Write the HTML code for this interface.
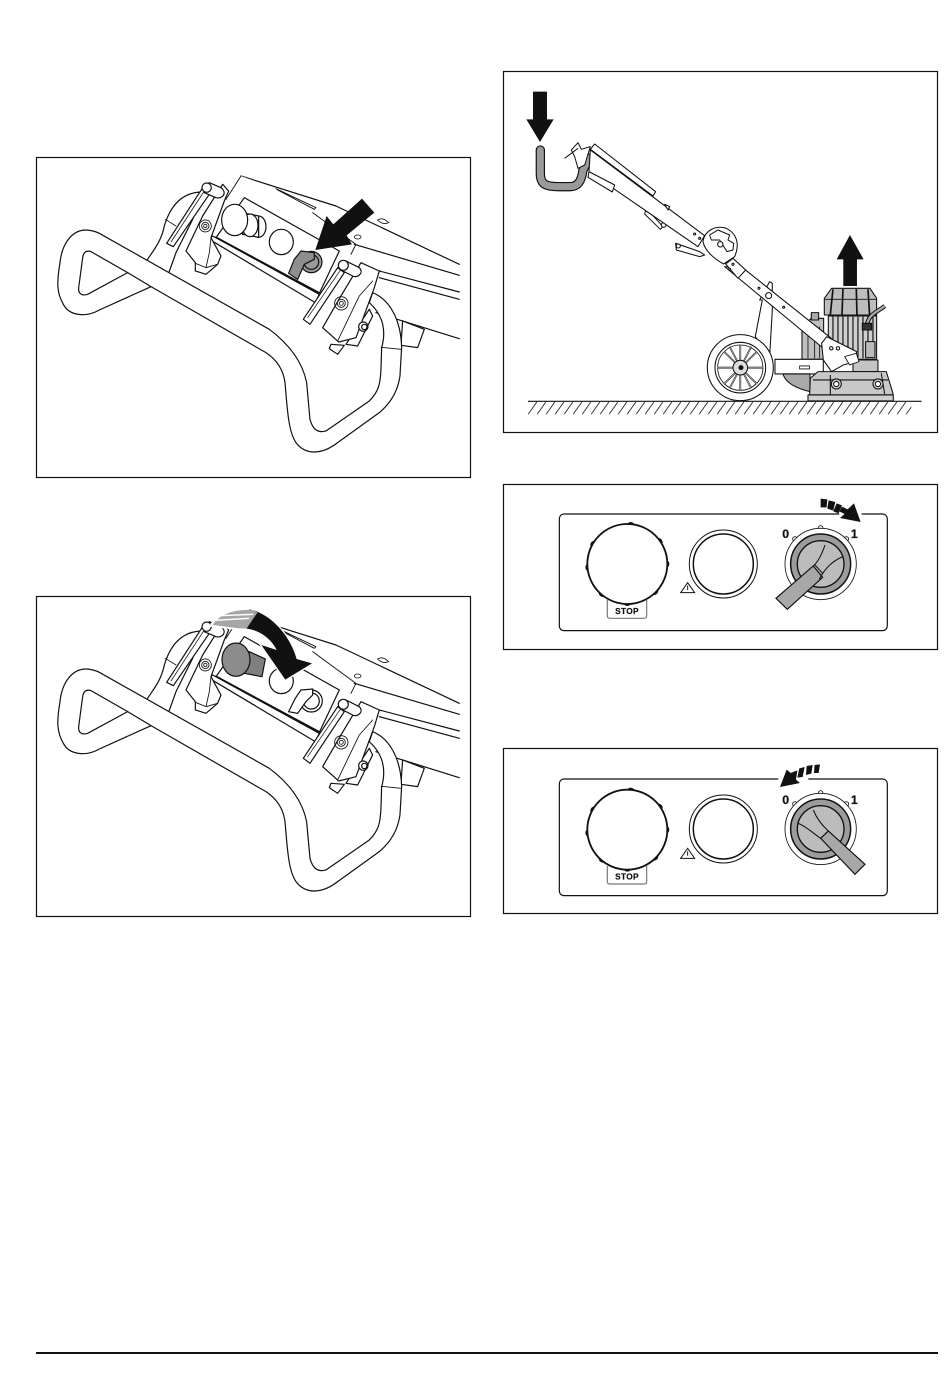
<!DOCTYPE html>
<html><head><meta charset="utf-8"><style>html,body{margin:0;padding:0;background:#fff;width:950px;height:1383px;overflow:hidden}svg{display:block}text{font-family:"Liberation Sans",sans-serif;font-weight:bold;fill:#111}</style></head><body>
<svg width="950" height="1383" viewBox="0 0 950 1383" xmlns="http://www.w3.org/2000/svg">
<rect width="950" height="1383" fill="#fff"/>
<defs>
<pattern id="hatch" patternUnits="userSpaceOnUse" x="75" y="995" width="27" height="39">
<path d="M-1,40 L28,-1" stroke="#222" stroke-width="2.7" fill="none"/>
</pattern>
<g id="rear" fill="#fff" stroke="#111" stroke-width="3.6" stroke-linejoin="round" stroke-linecap="round">
<path d="M615,60 L900,150 L1270,325 M955,265 L1270,358 M1030,345 L1270,408 M1030,365 L1270,430 M1020,470 L1270,548" fill="none"/>
<path d="M1025,192 Q1040,182 1058,200 Q1040,208 1025,192 Z" stroke-width="2.6"/>
<ellipse cx="965" cy="243" rx="10" ry="6" stroke-width="2.4"/>
<path d="M1100,495 L1165,520 L1145,575 L1095,568 Z"/>
<path d="M615,60 L570,125 L700,180 L725,100 Z" stroke="none"/>
<path d="M615,60 L570,130 M720,98 L840,155 L835,160 L725,102 M830,170 L960,265 L945,295" fill="none" stroke-width="2.8"/>
<path d="M625,125 L910,285 L850,412 L540,245 Z"/>
<path d="M540,245 L850,412" stroke-width="7" fill="none"/>
<path d="M520,250 L530,240 L850,415 L838,440 Z"/>
<path d="M500,108 C430,108 400,160 385,210 C375,260 350,285 325,325 L395,360 L420,290 L470,190 Z"/>
<path d="M388,190 L420,210" fill="none" stroke-width="2.4"/>
<path d="M560,85 L578,105 L565,135 L525,245 L555,300 L545,325 L510,355 L478,345 L478,320 L450,285 L500,180 Z"/>
<path d="M478,322 L510,335 L545,325 M510,335 L520,290 L525,245" fill="none" stroke-width="2.6"/>
<path d="M392,262 L500,95 L522,112 L412,272 Z"/>
<path d="M405,258 L505,105" fill="none" stroke-width="2.2"/>
<path d="M520,80 L555,95 C575,110 560,130 540,125 L505,110 Z"/>
<circle cx="512" cy="95" r="14"/>
<circle cx="508" cy="210" r="18" fill="none" stroke-width="2.6"/><circle cx="508" cy="210" r="11" fill="none" stroke-width="2.6"/><circle cx="508" cy="210" r="5" fill="none" stroke-width="2.6"/>
</g>
<g id="tubeshape">
<path fill-rule="evenodd" fill="#fff" stroke="#111" stroke-width="3.6" stroke-linejoin="round" d="M345,392 L190,462 C150,485 100,480 82,445 C62,410 62,380 72,320 C78,260 110,222 150,222 C165,222 175,225 190,232 L700,520 C760,565 800,620 812,680 L822,790 C830,820 845,832 870,825 L1000,735 C1030,705 1033,680 1035,640 L1037,575 C1050,530 1045,480 1000,440 L1010,410 C1060,430 1095,490 1097,575 L1092,660 C1085,710 1060,745 1030,770 L905,860 C860,895 810,900 780,860 C760,830 755,780 748,690 C745,640 720,610 690,590 L345,392 Z M275,350 L165,287 C150,282 142,290 140,305 L128,395 C126,415 140,420 155,415 Z"/>
<path d="M275,350 L345,392" stroke="#111" stroke-width="3.6" fill="none"/>
</g>
<g id="front" fill="#fff" stroke="#111" stroke-width="3.6" stroke-linejoin="round" stroke-linecap="round">
<path d="M1036,574 L1096,580" fill="none" stroke-width="3"/>
<path d="M885,565 L880,578 L905,595 L925,568 Z"/>
<path d="M1000,460 L1010,480 L965,570 L930,565 Z"/>
<path d="M975,320 L1030,345 L1015,395 L960,545 L908,558 L860,515 L915,420 Z"/>
<path d="M905,555 L970,420 L1010,375" fill="none" stroke-width="2.6"/>
<path d="M802,490 L905,335 L925,350 L822,505 Z"/>
<path d="M815,485 L915,340" fill="none" stroke-width="2.2"/>
<path d="M930,315 L970,335 C985,350 965,368 950,360 L915,342 Z"/>
<circle cx="922" cy="328" r="15"/>
<circle cx="916" cy="442" r="20" fill="none" stroke-width="2.6"/><circle cx="916" cy="442" r="12" fill="none" stroke-width="2.6"/><circle cx="916" cy="442" r="6" fill="none" stroke-width="2.6"/>
<circle cx="982" cy="512" r="14"/><circle cx="985" cy="513" r="8"/>
</g>
<g id="bumps" stroke-width="4"><circle cx="134" cy="165" r="11"/><circle cx="119" cy="232" r="11"/><circle cx="159" cy="308" r="11"/><circle cx="232" cy="335" r="11"/><circle cx="312" cy="302" r="11"/><circle cx="345" cy="222" r="11"/><circle cx="325" cy="157" r="11"/><circle cx="242" cy="109" r="11"/></g>
</defs>

<!-- frames -->
<g fill="none" stroke="#111" stroke-width="1.2">
<rect x="36.5" y="157.5" width="434" height="320"/>
<rect x="36.5" y="596.5" width="434" height="320"/>
<rect x="503.5" y="71.5" width="434" height="361"/>
<rect x="503.5" y="484.5" width="434" height="165"/>
<rect x="503.5" y="748.5" width="434" height="165"/>
</g>

<!-- panel 1 -->
<g transform="translate(36,156) scale(.3333)">
<use href="#rear"/>
<g fill="#fff" stroke="#111" stroke-width="3.6">
<ellipse cx="668" cy="212" rx="22" ry="32"/>
<path d="M620,170 L668,180 L668,244 L620,235 Z"/>
<ellipse cx="642" cy="208" rx="24" ry="34"/>
<ellipse cx="596" cy="192" rx="39" ry="47"/>
<ellipse cx="736" cy="258" rx="36" ry="38"/>
<circle cx="826" cy="318" r="32" fill="#9a9a9a"/><circle cx="826" cy="318" r="22" fill="#9a9a9a"/>
<path d="M795,285 L835,290 L835,310 L805,325 L785,370 L758,352 L775,310 Z" fill="#8e8e8e"/>
</g>
<use href="#tubeshape"/>
<use href="#front"/>
<path d="M978,128 L1015,170 L932,238 L948,265 L838,282 L872,180 L892,205 Z" fill="#111"/>
</g>

<!-- panel 2 -->
<g transform="translate(36,595) scale(.3333)">
<use href="#rear"/>
<g fill="#fff" stroke="#111" stroke-width="3.6">
<path d="M640,170 L688,192 L678,245 L625,235 Z" fill="#7f7f7f"/>
<ellipse cx="600" cy="194" rx="42" ry="50" fill="#8c8c8c"/>
<ellipse cx="736" cy="258" rx="36" ry="38"/>
<circle cx="826" cy="318" r="33"/><circle cx="826" cy="318" r="24"/>
<path d="M795,285 L830,282 L830,300 L810,320 L785,355 L758,350 L778,310 Z"/>
</g>
<use href="#tubeshape"/>
<use href="#front"/>
<path d="M525,92 C545,60 590,40 640,43 C700,55 760,115 782,192 L828,205 L748,254 L676,150 L722,165 C705,130 670,105 620,102 Z" fill="#fff" stroke="#fff" stroke-width="8"/>
<path d="M640,43 C700,55 760,115 782,192 L828,205 L748,254 L676,150 L722,165 C705,130 670,105 628,100 Z" fill="#111"/>
<path d="M530,90 C548,60 590,42 650,45 L665,52 L632,100 L610,100 Z" fill="#a6a6a6"/>
<path d="M538,76 L640,70 M552,62 L652,58" stroke="#fff" stroke-width="4" fill="none"/>
</g>

<!-- panel 3 -->
<g transform="translate(503,70) scale(.3333)" stroke="#111" stroke-width="3.2" fill="#fff" stroke-linejoin="round">
<path d="M90,65 H132 V148 H152 L111,216 L70,148 H90 Z" fill="#111" stroke="none"/>
<path d="M1021,648 H1062 V568 H1082 L1041,495 L1001,568 H1021 Z" fill="#111" stroke="none"/>
<!-- wheel-side strut -->
<path d="M770,690 L778,690 L757,800 L800,860 L808,720 L808,640 L800,635 Z"/>
<!-- gearbox & motor -->
<path d="M897,770 L925,745 L962,745 L962,868 L897,868 Z" fill="#c0c0c0"/>
<path d="M915,770 V865 M935,770 V865 M950,770 V865" fill="none" stroke-width="2.5"/>
<path d="M925,728 h22 v22 h-22 Z" fill="#aaa"/>
<path d="M976,738 H1121 V868 H976 Z" fill="#cfcfcf"/>
<path d="M990,740 V865 M1005,740 V865 M1020,740 V865 M1035,740 V865 M1050,740 V865 M1065,740 V865 M1080,740 V865 M1095,740 V865 M1110,740 V865" fill="none" stroke-width="3.5"/>
<path d="M986,655 H1101 L1121,685 V735 H964 V685 Z" fill="#bdbdbd"/>
<path d="M990,658 L982,735 M1020,657 L1017,735 M1060,657 L1062,735 M1095,658 L1100,735" fill="none" stroke-width="5"/>
<path d="M966,688 H1120" fill="none" stroke-width="2.4"/>
<path d="M1091,770 C1095,735 1115,730 1146,708" fill="none" stroke-width="13"/>
<path d="M1091,770 C1095,735 1115,730 1146,708" fill="none" stroke="#aaa" stroke-width="7"/>
<rect x="1078" y="760" width="28" height="20" fill="#333"/>
<rect x="1088" y="815" width="28" height="48" fill="#bbb"/>
<path d="M1050,870 H1125 V905 H1050 Z" fill="#c4c4c4"/>
<!-- frame -->
<path d="M816,868 H961 V912 H816 Z"/>
<path d="M890,888 h30 v9 h-30 Z" stroke-width="2.5"/>
<path d="M841,912 H921 L921,965 C880,955 850,940 841,915 Z" fill="#aaa"/>
<!-- housing -->
<path d="M922,925 L945,905 H1150 L1170,970 V975 H920 Z" fill="#c8c8c8"/>
<path d="M930,930 H1155 M982,915 V975 M1135,910 L1145,972" fill="none"/>
<circle cx="1000" cy="942" r="15" fill="#ddd"/><circle cx="1000" cy="942" r="8" fill="#fff"/>
<circle cx="1125" cy="942" r="15" fill="#ddd"/><circle cx="1125" cy="942" r="8" fill="#fff"/>
<rect x="915" y="975" width="256" height="18" fill="#cfcfcf"/>
<!-- handle tube -->
<path d="M112,240 L112,310 C112,345 130,350 170,350 L200,350 C225,350 235,335 240,300 L258,265" fill="none" stroke="#111" stroke-width="28" stroke-linecap="round"/>
<path d="M112,240 L112,310 C112,345 130,350 170,350 L200,350 C225,350 235,335 240,300 L258,265" fill="none" stroke="#9a9a9a" stroke-width="21" stroke-linecap="round"/>
<path d="M185,265 L225,235 M205,240 L225,218 L235,238 L262,230 L245,285 L225,295 L215,260Z" stroke-width="3"/>
<!-- beam -->
<path d="M430,415 L480,470 L472,478 L425,432 Z" stroke-width="3"/>
<circle cx="482" cy="465" r="7"/>
<path d="M258,305 L585,530 L605,497 L262,240 Z"/>
<path d="M258,305 L335,345 L328,366 L255,322 Z"/>
<path d="M262,238 L275,222 L458,365 L450,378 Z"/>
<path d="M485,403 L500,410 L495,420 Z"/>
<circle cx="575" cy="492" r="3"/><circle cx="590" cy="505" r="3"/>
<path d="M518,520 L590,545 L605,555 L590,560 L520,540 Z"/>
<circle cx="526" cy="528" r="6"/>
<!-- lower beam -->
<path d="M665,590 L725,598 L985,805 L955,830 Z"/>
<path d="M668,582 L690,565 L728,600 L705,625 Z"/>
<circle cx="680" cy="598" r="3"/><circle cx="690" cy="583" r="3"/>
<circle cx="797" cy="677" r="9"/><circle cx="768" cy="655" r="3"/><circle cx="842" cy="712" r="3"/>
<!-- hub -->
<path d="M600,515 C605,480 640,465 670,475 C700,490 712,520 695,560 L662,582 C630,565 605,540 600,515 Z"/>
<path d="M620,495 L645,480 L680,495 L675,510 L692,520 L690,540 L672,545 L650,510 L625,510 Z" stroke-width="3"/>
<circle cx="652" cy="523" r="8"/>
<!-- plate -->
<path d="M956,820 L971,800 L1061,845 L1056,875 L1021,885 L986,905 L961,870 Z"/>
<circle cx="985" cy="835" r="5"/><circle cx="1005" cy="835" r="5"/>
<path d="M1025,860 L1060,850 L1068,875 L1040,885 Z" stroke-width="2.6"/>
<!-- wheel -->
<circle cx="712" cy="893" r="99"/>
<circle cx="712" cy="893" r="76"/>
<circle cx="712" cy="893" r="68" fill="none" stroke-width="2.4"/>
<path d="M712,825 L712,961 M643,893 L781,893 M663,845 L762,942 M762,845 L663,942 M680,830 L745,955 M745,830 L680,955" fill="none" stroke-width="5"/>
<path d="M712,825 L712,961 M643,893 L781,893 M663,845 L762,942 M762,845 L663,942 M680,830 L745,955 M745,830 L680,955" fill="none" stroke="#eee" stroke-width="1.6"/>
<circle cx="712" cy="893" r="22" fill="#ddd"/>
<circle cx="714" cy="893" r="6" fill="#111"/>
<!-- ground -->
<path d="M75,994 H1256" fill="none" stroke-width="3.6"/>
<rect x="75" y="995" width="1150" height="38" fill="url(#hatch)" stroke="none"/>
</g>

<!-- panel 4 -->
<g transform="translate(550,490) scale(.3333)" stroke="#111" stroke-width="3.6" fill="#fff">
<rect x="28" y="72" width="984" height="350" rx="14"/>
<path d="M172,330 V377 Q172,385 180,385 H282 Q290,385 290,377 V330" stroke="#777" stroke-width="3.5"/>
<text x="231" y="372" font-size="25" text-anchor="middle" stroke="#111" stroke-width=".6" letter-spacing="1">STOP</text>
<use href="#bumps"/>
<circle cx="232" cy="222" r="120" stroke-width="5.5"/>
<circle cx="520" cy="222" r="102" stroke-width="3"/><circle cx="520" cy="222" r="90" stroke-width="4.5"/>
<path d="M392,308 L413,278 L434,308 Z" stroke-width="3"/>
<path d="M413,287 V300" stroke-width="3"/>
<text x="707" y="144" font-size="37" text-anchor="middle" stroke="#111" stroke-width=".8">0</text>
<text x="913" y="144" font-size="37" text-anchor="middle" stroke="#111" stroke-width=".8">1</text>
<g stroke-width="2.5"><circle cx="812" cy="114" r="7"/><circle cx="735" cy="147" r="7"/><circle cx="889" cy="147" r="7"/></g>
<circle cx="812" cy="222" r="107" stroke-width="2.5"/>
<circle cx="812" cy="222" r="90" fill="#9c9c9c" stroke-width="4.5"/>
<circle cx="812" cy="222" r="70" fill="#bcbcbc" stroke-width="4"/>
<path d="M790,228 L678,325 L712,358 L818,262 Z" fill="#a8a8a8" stroke-width="3.5"/>
<path d="M825,165 C815,195 805,215 790,228 M808,268 C825,235 845,215 878,200 M795,225 L818,250" stroke-width="3.2" fill="none"/>
<path d="M868,72 H935" stroke="#fff" stroke-width="7"/>
<path d="M812,26 L832,28 L830,52 L812,52 Z M836,31 L856,36 L850,62 L832,56 Z M860,40 L876,46 L866,70 L850,64 Z" fill="#111" stroke="none"/>
<path d="M876,50 L893,58 L912,40 L932,96 L870,84 L884,72 L868,64 Z" fill="#111" stroke="none"/>
</g>

<!-- panel 5 -->
<g transform="translate(550,755) scale(.3333)" stroke="#111" stroke-width="3.6" fill="#fff">
<rect x="28" y="72" width="984" height="350" rx="14"/>
<path d="M172,333 V379 Q172,387 180,387 H282 Q290,387 290,379 V333" stroke="#777" stroke-width="3.5"/>
<text x="231" y="374" font-size="25" text-anchor="middle" stroke="#111" stroke-width=".6" letter-spacing="1">STOP</text>
<use href="#bumps" y="2"/>
<circle cx="232" cy="224" r="120" stroke-width="5.5"/>
<circle cx="520" cy="222" r="102" stroke-width="3"/><circle cx="520" cy="222" r="90" stroke-width="4.5"/>
<path d="M392,310 L413,280 L434,310 Z" stroke-width="3"/>
<path d="M413,289 V302" stroke-width="3"/>
<text x="707" y="147" font-size="37" text-anchor="middle" stroke="#111" stroke-width=".8">0</text>
<text x="913" y="147" font-size="37" text-anchor="middle" stroke="#111" stroke-width=".8">1</text>
<g stroke-width="2.5"><circle cx="812" cy="114" r="7"/><circle cx="735" cy="147" r="7"/><circle cx="889" cy="147" r="7"/></g>
<circle cx="812" cy="222" r="107" stroke-width="2.5"/>
<circle cx="812" cy="222" r="90" fill="#9c9c9c" stroke-width="4.5"/>
<circle cx="812" cy="222" r="70" fill="#bcbcbc" stroke-width="4"/>
<path d="M835,228 L945,328 L915,358 L812,250 Z" fill="#a8a8a8" stroke-width="3.5"/>
<path d="M790,165 C800,190 815,210 835,228 M812,250 C790,235 770,215 745,205 M835,228 L812,250" stroke-width="3.2" fill="none"/>
<path d="M685,72 H775" stroke="#fff" stroke-width="7"/>
<path d="M810,28 L806,54 L792,54 L794,30 Z M788,30 L784,56 L768,60 L770,33 Z M764,36 L758,66 L742,68 L748,40 Z" fill="#111" stroke="none"/>
<path d="M742,46 L722,54 L710,44 L690,96 L750,84 L738,74 Z" fill="#111" stroke="none"/>
</g>

<rect x="36" y="1352" width="902" height="2" fill="#111"/>
</svg>
</body></html>
